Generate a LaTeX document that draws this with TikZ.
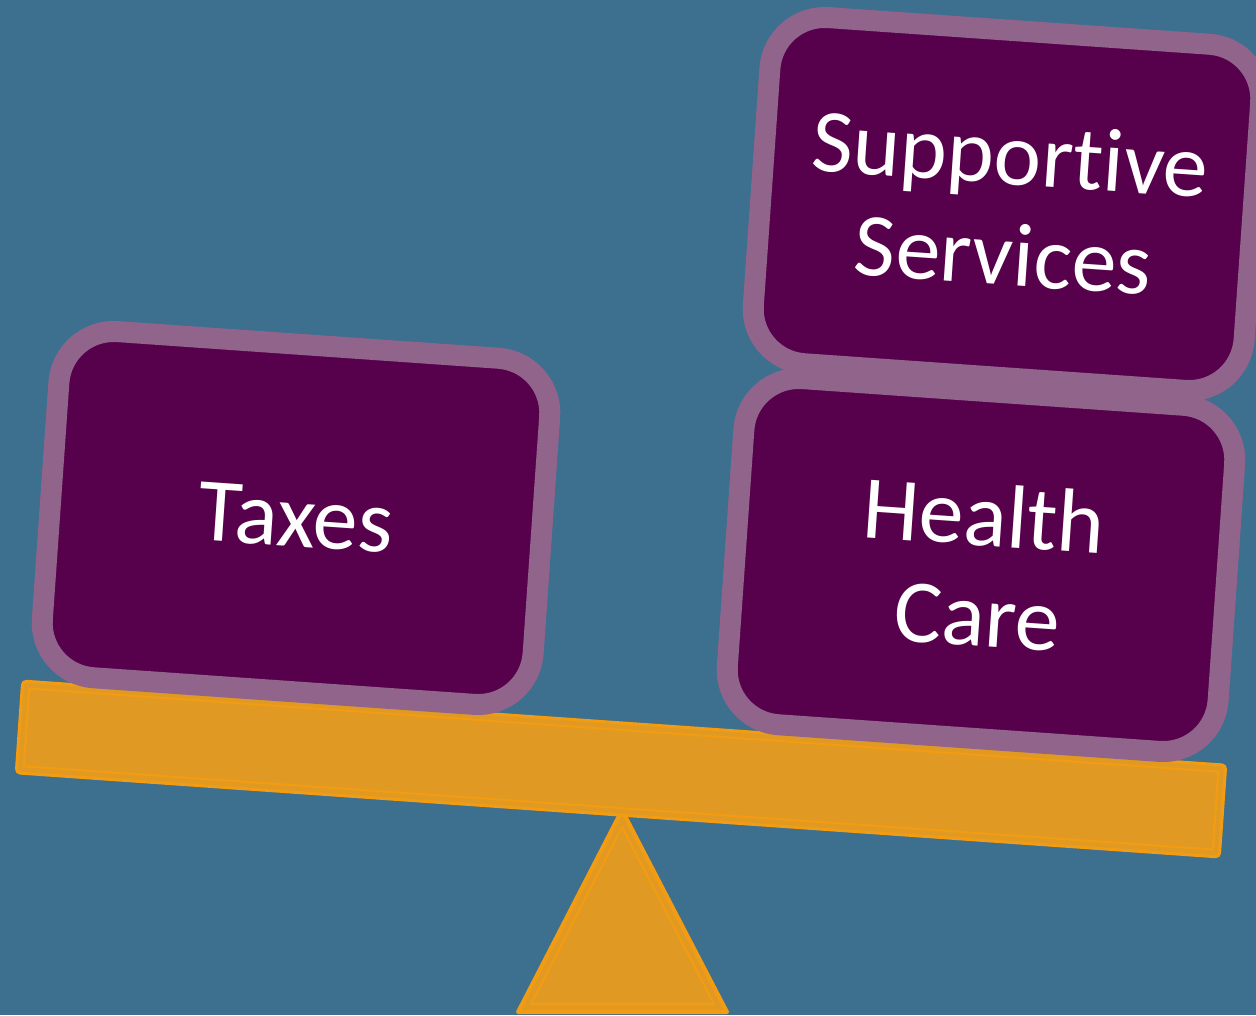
\documentclass[tikz,border=0pt]{standalone}
\usepackage{fontspec}
\setmainfont{Carlito}[Ligatures=NoCommon]
\definecolor{bgblue}{HTML}{3D6F8F}
\definecolor{beamfill}{HTML}{E09A24}
\definecolor{beamline}{HTML}{F39C12}
\definecolor{boxfill}{HTML}{57004B}
\definecolor{boxline}{HTML}{91648B}
\begin{document}
\begin{tikzpicture}[x=1pt,y=-1pt,
  block/.style={draw=boxline, fill=boxfill, line width=21pt, rounded corners=55pt,
    minimum width=492pt, minimum height=347pt, inner sep=0pt, rotate=-4,
    text=white, align=center, font=\fontsize{90}{101}\selectfont},
  plank/.style={draw=beamline, fill=beamfill, line width=3pt, rounded corners=4pt,
    minimum width=1206pt, minimum height=92pt, inner sep=0pt, rotate=-4},
  plankinner/.style={draw=beamline, line width=2pt,
    minimum width=1192pt, minimum height=78pt, inner sep=0pt, rotate=-4},
  pivot/.style={draw=beamline, fill=beamfill, line width=4pt, line join=round},
  pivotinner/.style={draw=beamline, line width=2pt, line join=round}]
\useasboundingbox (0,0) rectangle (1256,1015);
\fill[bgblue] (0,0) rectangle (1256,1015);
% pivot
\coordinate (apex) at (622,810);
\coordinate (bl) at (518,1012);
\coordinate (br) at (727,1012);
\coordinate (iapex) at (622,827);
\coordinate (ibl) at (531,1004);
\coordinate (ibr) at (714,1004);
\draw[pivot] (apex) -- (bl) -- (br) -- cycle;
\draw[pivotinner] (iapex) -- (ibl) -- (ibr) -- cycle;
% beam
\node[plank] (beam) at (621,769) {};
\node[plankinner] (beaminner) at (621,769) {};
% boxes
\node[block] (taxes) at (296,518) {Taxes};
\node[block] (supportive) at (1007,204) {Supportive\\Services};
\node[block] (health) at (981,565) {Health\\Care};
\end{tikzpicture}
\end{document}
